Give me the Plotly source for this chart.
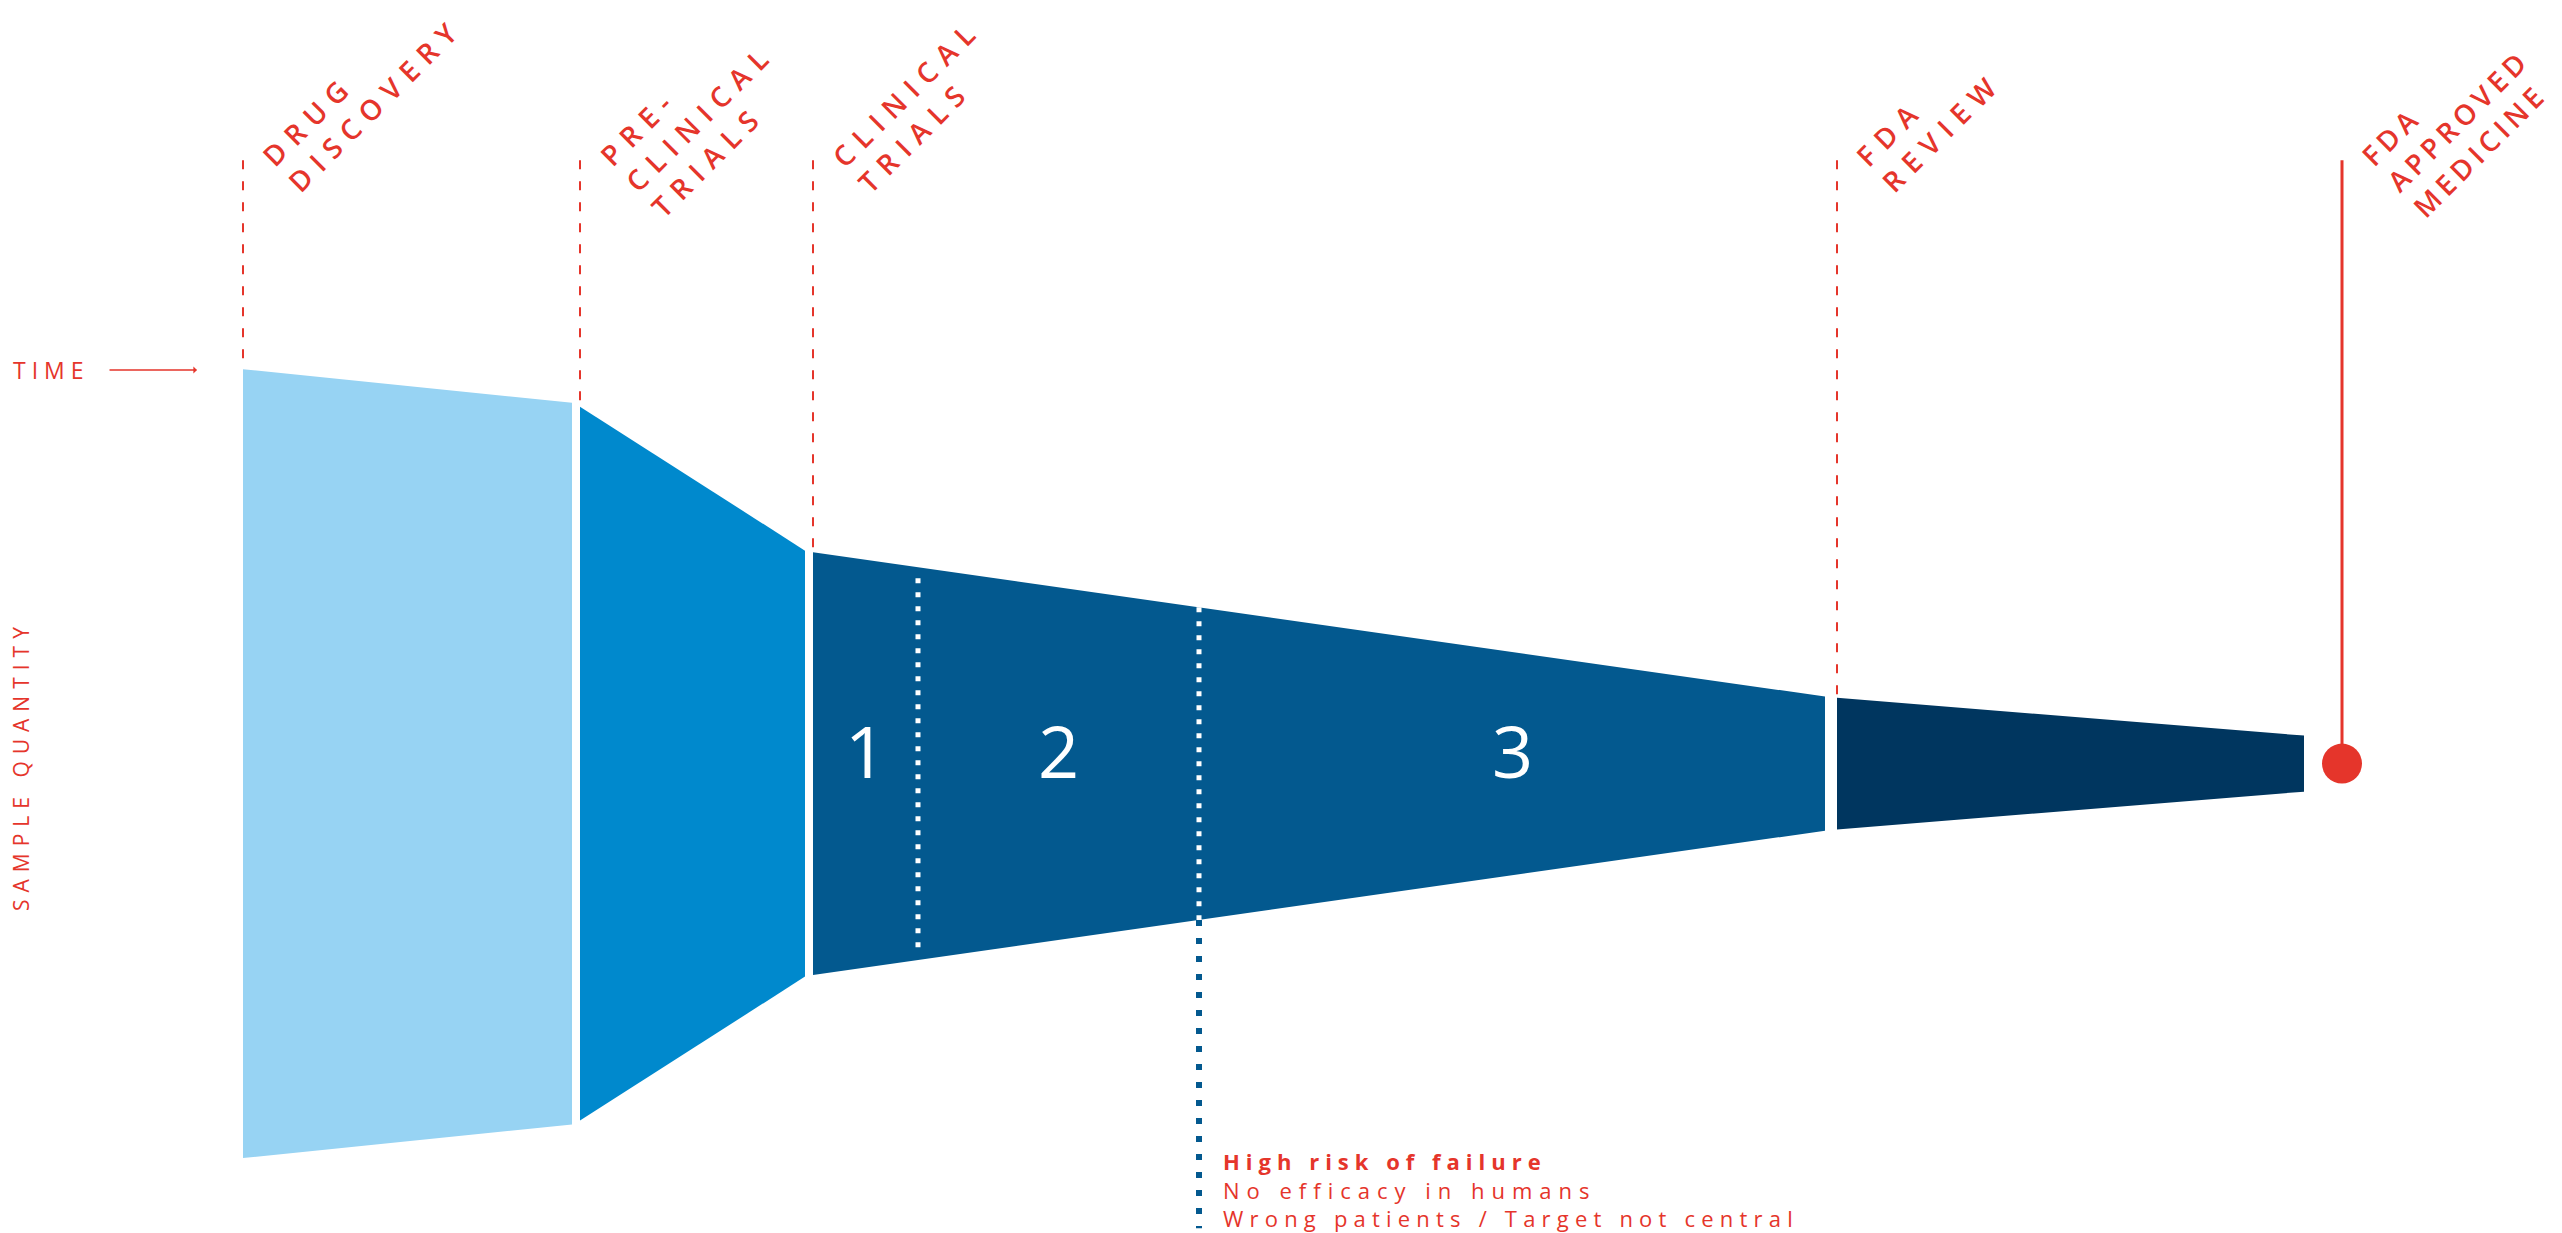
import numpy as np
import plotly.graph_objects as go

# ---------------- data ----------------
stage_labels = ["DRUG<br>DISCOVERY", "PRE-<br>CLINICAL<br>TRIALS", "CLINICAL<br>TRIALS", "FDA<br>REVIEW"]
stage_start = [24.3, 58.0, 81.3, 183.7]     # time (arbitrary units)
stage_end = [57.2, 80.5, 182.5, 230.4]
qty_start = [100.0, 90.5, 53.6, 16.7]       # relative sample quantity
qty_end = [91.5, 54.0, 17.0, 7.1]
stage_colors = ["#97D3F3", "#0089CD", "#03598F", "#00365F"]

approval_label = "FDA<br>APPROVED<br>MEDICINE"
approval_time = 234.2

phase_labels = ["1", "2", "3"]
phase_bounds = [81.3, 91.8, 119.9, 182.5]

risk_title = "High risk of failure"
risk_reasons = ["No efficacy in humans", "Wrong patients / Target not central"]

# ---------------- layout constants ----------------
W, H = 2562, 1233
X_RANGE = [0, 256.2]
Y_RANGE = [-59.5, 96.8]
GUIDE_TOP = 76.5
RISK_BOTTOM = -58.9
RED = "#E5352B"
FONT = "Open Sans"


def spaced(text, px):
    return "<br>".join(
        f'<span style="letter-spacing:{px}px">{line}</span>' for line in text.split("<br>")
    )


fig = go.Figure()

# funnel segments
for s, e, qs, qe, c in zip(stage_start, stage_end, qty_start, qty_end, stage_colors):
    fig.add_trace(go.Scatter(
        x=[s, e, e, s, s], y=[qs / 2, qe / 2, -qe / 2, -qs / 2, qs / 2],
        mode="lines", fill="toself", fillcolor=c, line=dict(width=0),
        hoverinfo="skip", showlegend=False))

# dashed guide lines to each stage
for s, qs in zip(stage_start, qty_start):
    fig.add_trace(go.Scatter(
        x=[s, s], y=[GUIDE_TOP, qs / 2], mode="lines",
        line=dict(color=RED, width=2, dash="9px,12px"),
        hoverinfo="skip", showlegend=False))

# approval line and dot
fig.add_trace(go.Scatter(
    x=[approval_time, approval_time], y=[GUIDE_TOP, 0], mode="lines",
    line=dict(color=RED, width=3), hoverinfo="skip", showlegend=False))
fig.add_trace(go.Scatter(
    x=[approval_time], y=[0], mode="markers",
    marker=dict(color=RED, size=40, line=dict(width=0)),
    hoverinfo="skip", showlegend=False))

# phase separators inside clinical trials
ci = 2
def top_edge(t):
    return float(np.interp(t, [stage_start[ci], stage_end[ci]], [qty_start[ci] / 2, qty_end[ci] / 2]))

b1 = phase_bounds[1]
e1 = top_edge(b1) - 1.4
fig.add_trace(go.Scatter(
    x=[b1, b1], y=[e1, -e1], mode="lines",
    line=dict(color="white", width=5, dash="5px,9px"),
    hoverinfo="skip", showlegend=False))
b2 = phase_bounds[2]
e2 = top_edge(b2)
fig.add_trace(go.Scatter(
    x=[b2, b2], y=[e2, -e2], mode="lines",
    line=dict(color="white", width=5, dash="5px,9px"),
    hoverinfo="skip", showlegend=False))
fig.add_trace(go.Scatter(
    x=[b2, b2], y=[-e2, RISK_BOTTOM], mode="lines",
    line=dict(color=stage_colors[2], width=6, dash="6px,12px"),
    hoverinfo="skip", showlegend=False))

annotations = []

# stage labels (rotated)
LS = 28
LH = 1.3 * LS
label_x = stage_start + [approval_time]
label_txt = stage_labels + [approval_label]
label_sp = [9, 9, 9, 9, 5]
for x0, lab, sp in zip(label_x, label_txt, label_sp):
    n = lab.count("<br>") + 1
    annotations.append(dict(
        x=x0, y=GUIDE_TOP, xref="x", yref="y", showarrow=False,
        text=spaced(lab, sp), textangle=-45, align="left",
        xanchor="left", yanchor="bottom",
        xshift=8, yshift=12 - 0.707 * (n * LH + 4),
        font=dict(family=FONT, size=LS, color=RED, weight=600)))

# phase numbers
for i, lab in enumerate(phase_labels):
    annotations.append(dict(
        x=(phase_bounds[i] + phase_bounds[i + 1]) / 2, y=0, xref="x", yref="y",
        showarrow=False, text=lab, yshift=14,
        font=dict(family=FONT, size=72, color="white")))

# TIME label and arrow
annotations.append(dict(
    x=11 / W, y=1 - 370 / H, xref="paper", yref="paper", showarrow=False,
    xanchor="left", yanchor="middle", text=spaced("TIME", 6),
    font=dict(family=FONT, size=23, color=RED)))
annotations.append(dict(
    x=197 / W, y=1 - 370 / H, xref="paper", yref="paper", text="",
    showarrow=True, ax=-89, ay=0, arrowhead=1, arrowsize=0.8, arrowwidth=1.5,
    arrowcolor=RED))

# SAMPLE QUANTITY label
annotations.append(dict(
    x=21 / W, y=1 - 766 / H, xref="paper", yref="paper", showarrow=False,
    textangle=-90, xanchor="center", yanchor="middle",
    text=spaced("SAMPLE QUANTITY", 7),
    font=dict(family=FONT, size=21, color=RED)))

# risk note
risk_sp = [7.0, 6.2]
risk_text = (f'<b><span style="letter-spacing:6px">{risk_title}</span></b><br>'
             + "<br>".join(f'<span style="letter-spacing:{sp}px">{r}</span>'
                           for r, sp in zip(risk_reasons, risk_sp)))
annotations.append(dict(
    x=phase_bounds[2], y=1 - 1189 / H, xref="x", yref="paper", showarrow=False,
    xanchor="left", yanchor="middle", align="left", xshift=22,
    text=risk_text, font=dict(family=FONT, size=22, color=RED)))

fig.update_layout(
    width=W, height=H, margin=dict(l=0, r=0, t=0, b=0),
    paper_bgcolor="white", plot_bgcolor="white",
    xaxis=dict(range=X_RANGE, visible=False, fixedrange=True),
    yaxis=dict(range=Y_RANGE, visible=False, fixedrange=True),
    annotations=annotations, showlegend=False)

fig.write_html("out.html")
